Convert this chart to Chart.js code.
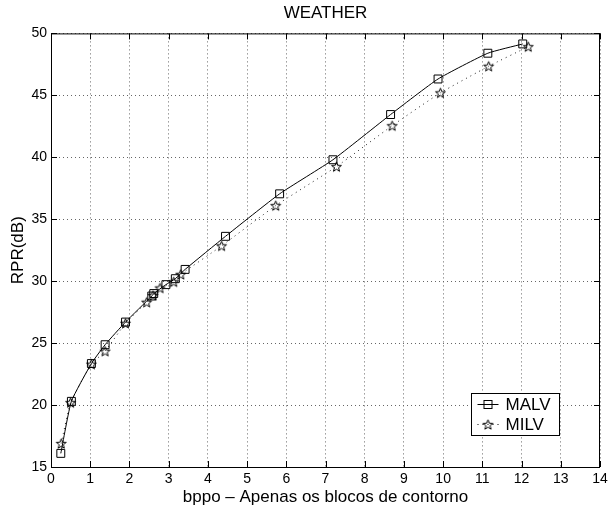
<!DOCTYPE html>
<html>
<head>
<meta charset="utf-8">
<script src="https://cdn.jsdelivr.net/npm/chart.js@4/dist/chart.umd.min.js"></script>
<style>
  html, body { margin:0; padding:0; background:#fff; }
  #wrap { width:615px; height:508px; }
</style>
</head>
<body>
<div id="wrap"><canvas id="chart" width="615" height="508"></canvas></div>
<script>
// === Dados ===
const malvX = [0.25, 0.52, 1.03, 1.38, 1.90, 2.57, 2.62, 2.93, 3.17, 3.42, 4.45, 5.83, 7.19, 8.66, 9.87, 11.14, 12.03];
const malvY = [16.1, 20.3, 23.35, 24.87, 26.7, 28.8, 29.0, 29.72, 30.2, 30.95, 33.62, 37.05, 39.8, 43.45, 46.32, 48.4, 49.15];
const milvX = [0.26, 0.50, 1.03, 1.38, 1.90, 2.44, 2.60, 2.78, 3.13, 3.31, 4.35, 5.73, 7.28, 8.70, 9.93, 11.16, 12.17];
const milvY = [16.9, 20.2, 23.3, 24.35, 26.6, 28.3, 28.85, 29.45, 29.95, 30.55, 32.85, 36.1, 39.25, 42.55, 45.2, 47.35, 48.93];
const xTicks = [0,1,2,3,4,5,6,7,8,9,10,11,12,13,14];
const yTicks = [15,20,25,30,35,40,45,50];
const seriesNames = ['MALV', 'MILV'];

const FONT = '"Liberation Sans", Arial, Helvetica, sans-serif';

// estrela (pentagrama) vazada
function starImg(r) {
  const c = document.createElement('canvas');
  const s = Math.ceil(r * 2 + 4);
  c.width = s; c.height = s;
  const g = c.getContext('2d');
  g.translate(s / 2, s / 2 + 0.5);
  g.beginPath();
  for (let i = 0; i < 10; i++) {
    const rad = i % 2 ? r * 0.42 : r;
    const a = -Math.PI / 2 + i * Math.PI / 5;
    g.lineTo(rad * Math.cos(a), rad * Math.sin(a));
  }
  g.closePath();
  g.strokeStyle = '#000'; g.lineWidth = 1; g.stroke();
  return c;
}
const star = starImg(5.2);

const toPts = (xs, ys) => xs.map((x, i) => ({ x: x, y: ys[i] }));

// caixa, marcas internas e legenda
const boxPlugin = {
  id: 'box',
  afterDatasetsDraw(chart) {
    const { ctx, chartArea: a, scales } = chart;
    ctx.save();
    ctx.strokeStyle = '#000'; ctx.lineWidth = 1;
    ctx.strokeRect(a.left + 0.5, a.top + 0.5, a.right - a.left - 1, a.bottom - a.top);
    ctx.beginPath();
    const L = 6;
    xTicks.forEach(v => {
      const px = Math.round(scales.x.getPixelForValue(v)) + 0.5;
      ctx.moveTo(px, a.bottom); ctx.lineTo(px, a.bottom - L);
      ctx.moveTo(px, a.top); ctx.lineTo(px, a.top + L);
    });
    yTicks.forEach(v => {
      const py = Math.round(scales.y.getPixelForValue(v)) + 0.5;
      ctx.moveTo(a.left, py); ctx.lineTo(a.left + L, py);
      ctx.moveTo(a.right, py); ctx.lineTo(a.right - L, py);
    });
    ctx.stroke();

    // legenda
    const bw = 88, bh = 42;
    const bx = Math.round(a.right - 41 - bw) + 0.5, by = Math.round(a.bottom - 32 - bh) + 0.5;
    ctx.fillStyle = '#fff';
    ctx.fillRect(bx, by, bw, bh);
    ctx.strokeRect(bx, by, bw, bh);
    const rows = [by + 11, by + 31];
    // MALV
    ctx.beginPath();
    ctx.moveTo(bx + 6, rows[0]); ctx.lineTo(bx + 27, rows[0]);
    ctx.stroke();
    ctx.strokeRect(bx + 12.5, rows[0] - 4, 8, 8);
    // MILV
    ctx.setLineDash([1, 4]);
    ctx.beginPath();
    ctx.moveTo(bx + 6, rows[1]); ctx.lineTo(bx + 27, rows[1]);
    ctx.stroke();
    ctx.setLineDash([]);
    ctx.drawImage(star, bx + 16.5 - star.width / 2, rows[1] - star.height / 2);
    ctx.fillStyle = '#000';
    ctx.font = '17px ' + FONT;
    ctx.textBaseline = 'middle';
    ctx.fillText(seriesNames[0], bx + 34, rows[0] + 1);
    ctx.fillText(seriesNames[1], bx + 34, rows[1] + 1);
    ctx.restore();
  }
};

new Chart(document.getElementById('chart'), {
  type: 'line',
  data: {
    datasets: [
      { label: seriesNames[0], data: toPts(malvX, malvY), borderColor: '#000', borderWidth: 1,
        pointStyle: 'rect', pointRadius: 5.6, pointBorderWidth: 1, pointBorderColor: '#000',
        pointBackgroundColor: 'rgba(0,0,0,0)', tension: 0.15, fill: false, order: 1 },
      { label: seriesNames[1], data: toPts(milvX, milvY), borderColor: '#222', borderWidth: 1, borderDash: [1, 4],
        pointStyle: star, pointRadius: 5, tension: 0.15, fill: false, order: 2 }
    ]
  },
  options: {
    responsive: false,
    animation: false,
    devicePixelRatio: 1,
    layout: { padding: { left: 0, right: 15, top: 0, bottom: 0 } },
    plugins: {
      legend: { display: false },
      tooltip: { enabled: false },
      title: { display: true, text: 'WEATHER', color: '#000', fullSize: false,
               font: { family: FONT, size: 17, weight: 'normal' }, padding: { top: 3, bottom: 10 } }
    },
    scales: {
      x: {
        type: 'linear', min: 0, max: 14,
        afterBuildTicks: s => { s.ticks = xTicks.map(v => ({ value: v })); },
        afterFit: s => { s.height = 41; },
        ticks: { color: '#000', font: { family: FONT, size: 14 }, padding: 4, maxRotation: 0 },
        grid: { color: '#666', drawTicks: false },
        border: { display: false, dash: [1, 3] },
        title: { display: true, text: 'bppo \u2013 Apenas os blocos de contorno', color: '#000',
                 font: { family: FONT, size: 17 }, padding: { top: 0, bottom: 0 } }
      },
      y: {
        type: 'linear', min: 15, max: 50,
        afterBuildTicks: s => { s.ticks = yTicks.map(v => ({ value: v })); },
        afterFit: s => { s.width = 51; },
        ticks: { color: '#000', font: { family: FONT, size: 14 }, padding: 4 },
        grid: { color: '#666', drawTicks: false },
        border: { display: false, dash: [1, 3] },
        title: { display: true, text: 'RPR(dB)', color: '#000',
                 font: { family: FONT, size: 17 }, padding: { top: 8, bottom: 0 } }
      }
    }
  },
  plugins: [boxPlugin]
});
</script>
</body>
</html>
